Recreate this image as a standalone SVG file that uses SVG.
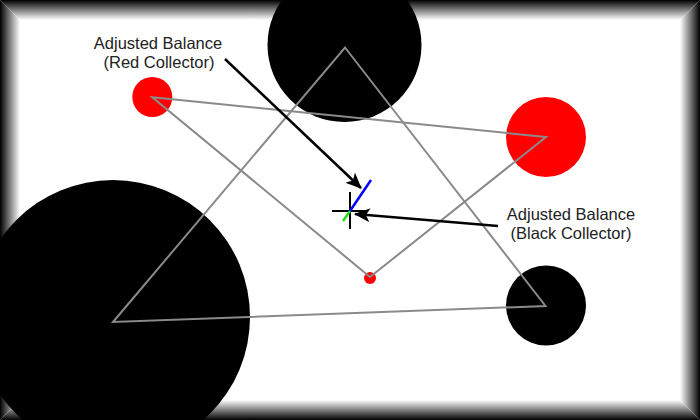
<svg xmlns="http://www.w3.org/2000/svg" width="700" height="420" viewBox="0 0 700 420">
<style>
.lbl{font-family:"Liberation Sans",Arial,sans-serif;font-size:16.5px;fill:#222;text-anchor:middle}
.blk{fill:#000}
.red{fill:#f00}
.edge{stroke:#8a8a8a;stroke-width:2;fill:none;stroke-linejoin:miter}
.arrow{stroke:#000;stroke-width:2.5;fill:none;marker-end:url(#ah)}
</style>
<defs>
<linearGradient id="gT" x1="0" y1="0" x2="0" y2="1"><stop offset="0" stop-color="#000"/><stop offset="1" stop-color="#fff"/></linearGradient>
<linearGradient id="gB" x1="0" y1="1" x2="0" y2="0"><stop offset="0" stop-color="#000"/><stop offset="1" stop-color="#fff"/></linearGradient>
<linearGradient id="gL" x1="0" y1="0" x2="1" y2="0"><stop offset="0" stop-color="#000"/><stop offset="1" stop-color="#fff"/></linearGradient>
<linearGradient id="gR" x1="1" y1="0" x2="0" y2="0"><stop offset="0" stop-color="#000"/><stop offset="1" stop-color="#fff"/></linearGradient>
<marker id="ah" viewBox="0 0 16 14" refX="15" refY="7" markerWidth="16" markerHeight="14" markerUnits="userSpaceOnUse" orient="auto">
<path d="M0,0 L16,7 L0,14 L4,7 Z" fill="#000"/>
</marker>
</defs>
<rect width="700" height="420" fill="#fff"/>
<g id="frame">
<polygon points="0,0 700,0 680,20 20,20" fill="url(#gT)"/>
<polygon points="0,420 700,420 680,400 20,400" fill="url(#gB)"/>
<polygon points="0,0 20,20 20,400 0,420" fill="url(#gL)"/>
<polygon points="700,0 680,20 680,400 700,420" fill="url(#gR)"/>
</g>
<g id="black-top"><circle class="blk" cx="344.5" cy="45" r="77"/></g>
<g id="black-left"><circle class="blk" cx="113" cy="317" r="137"/></g>
<g id="black-right"><circle class="blk" cx="546" cy="305.5" r="40"/></g>
<g id="red-left"><circle class="red" cx="152.3" cy="97" r="20"/></g>
<g id="red-right"><circle class="red" cx="546" cy="137" r="40"/></g>
<g id="red-bottom"><circle class="red" cx="370" cy="278" r="6"/></g>
<g id="connectors">
<polygon class="edge" points="345,47.5 545.5,306 113,322"/>
<polygon class="edge" points="152.3,97.3 546,137 370,277"/>
<path class="arrow" d="M225,59 L361,188"/>
<path class="arrow" d="M498,226 L355,214"/>
</g>
<g id="balance">
<path d="M332,211 H368 M350,192 V229" stroke="#000" stroke-width="2"/>
<path d="M371,180 L350,211" stroke="#00f" stroke-width="2.5"/>
<path d="M350,211 L343,221" stroke="#2d2" stroke-width="2.5"/>
</g>
<g id="label-red">
<text class="lbl" x="158" y="49">Adjusted Balance</text>
<text class="lbl" x="159" y="68">(Red Collector)</text>
</g>
<g id="label-black">
<text class="lbl" x="571" y="220">Adjusted Balance</text>
<text class="lbl" x="571" y="238.5">(Black Collector)</text>
</g>
</svg>
